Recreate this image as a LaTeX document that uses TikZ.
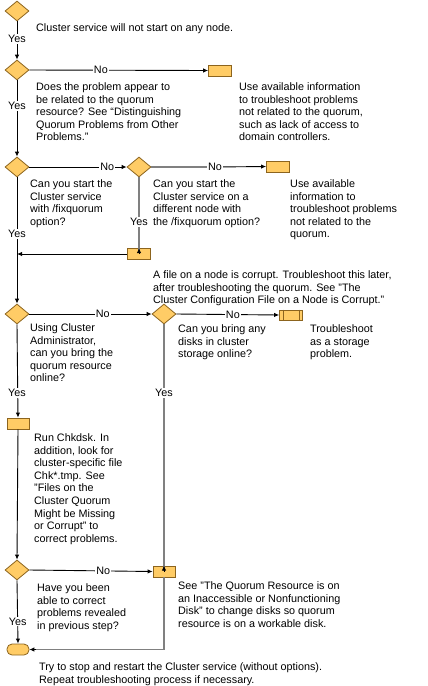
\documentclass[tikz,border=0pt]{standalone}
\usepackage{fontspec}
\setmainfont{Liberation Sans}
\usetikzlibrary{shapes.geometric,arrows.meta}
\definecolor{boxfill}{RGB}{255,204,102}
\definecolor{boxdraw}{RGB}{140,100,30}
\definecolor{linegray}{RGB}{128,128,128}
\tikzset{
  dec/.style={diamond,draw=boxdraw,fill=boxfill,line width=0.8pt,minimum width=24pt,minimum height=20pt,inner sep=0pt},
  act/.style={rectangle,draw=boxdraw,fill=boxfill,line width=0.8pt,minimum width=23pt,minimum height=11pt,inner sep=0pt},
  term/.style={rectangle,rounded corners=5pt,draw=boxdraw,fill=boxfill,line width=0.8pt,minimum width=22pt,minimum height=11pt,inner sep=0pt},
  txt/.style={anchor=north west,align=left,inner sep=0pt,font=\fontsize{10.8}{12.6}\selectfont},
  lab/.style={fill=white,inner sep=1.2pt,font=\fontsize{10.8}{12.6}\selectfont},
  conn/.style={draw=black,line width=0.9pt},
  gconn/.style={draw=linegray,line width=1.2pt},
  arr/.style={-{Latex[length=5pt,width=4.5pt]}},
}
\begin{document}
\begin{tikzpicture}[x=1pt,y=-1pt]
\useasboundingbox (0,0) rectangle (428,686);
% nodes
\node[dec] (d1) at (17,11) {};
\node[dec] (d2) at (17,70) {};
\node[dec] (d3) at (17,167) {};
\node[dec] (d4) at (139,167) {};
\node[dec] (d5) at (17,314) {};
\node[dec] (d6) at (164,314) {};
\node[dec] (d7) at (17,570) {};
\node[act] (b1) at (220,70.5) {};
\node[act] (b2) at (278,166.5) {};
\node[act] (b3) at (139,254) {};
\node[act,minimum height=10pt] (bs) at (291,315) {};
\draw[boxdraw,line width=0.8pt] ([xshift=4pt]bs.north west) -- ([xshift=4pt]bs.south west);
\draw[boxdraw,line width=0.8pt] ([xshift=-4pt]bs.north east) -- ([xshift=-4pt]bs.south east);
\node[act,minimum width=22pt] (b4) at (18,423.5) {};
\node[act,minimum width=22pt] (b5) at (164,571.5) {};
\node[term] (t) at (18,649.5) {};
\coordinate (m1) at (17,254);
\coordinate (m2) at (164,649.5);
% texts
\node[txt] (x1) at (36,23) {Cluster service will not start on any node.};
\node[txt] (x2) at (36,82.5) {Does the problem appear to\\be related to the quorum\\resource? See “Distinguishing\\Quorum Problems from Other\\Problems.”};
\node[txt] (x3) at (239,82.5) {Use available information\\to troubleshoot problems\\not related to the quorum,\\such as lack of access to\\domain controllers.};
\node[txt] (x4) at (30,179.5) {Can you start the\\Cluster service\\with /fixquorum\\option?};
\node[txt] (x5) at (153,179.5) {Can you start the\\Cluster service on a\\different node with\\the /fixquorum option?};
\node[txt] (x6) at (290,179.5) {Use available\\information to\\troubleshoot problems\\not related to the\\quorum.};
\node[txt] (x7) at (153,270.5) {A file on a node is corrupt. Troubleshoot this later,\\after troubleshooting the quorum. See "The\\Cluster Configuration File on a Node is Corrupt."};
\node[txt] (x8) at (30,323.5) {Using Cluster\\Administrator,\\can you bring the\\quorum resource\\online?};
\node[txt] (x9) at (178,324.5) {Can you bring any\\disks in cluster\\storage online?};
\node[txt] (x10) at (310,324.5) {Troubleshoot\\as a storage\\problem.};
\node[txt] (x11) at (34,433.5) {Run Chkdsk. In\\addition, look for\\cluster-specific file\\Chk*.tmp. See\\"Files on the\\Cluster Quorum\\Might be Missing\\or Corrupt" to\\correct problems.};
\node[txt] (x12) at (37,583.5) {Have you been\\able to correct\\problems revealed\\in previous step?};
\node[txt] (x13) at (178,581.5) {See "The Quorum Resource is on\\an Inaccessible or Nonfunctioning\\Disk" to change disks so quorum\\resource is on a workable disk.};
\node[txt] (x14) at (39,662.5) {Try to stop and restart the Cluster service (without options).\\Repeat troubleshooting process if necessary.};
% connectors
\draw[conn,arr] (d1.south) -- (d2.north) node[lab,pos=0.45] {Yes};
\draw[conn,arr] (d2.east) -- (b1.west) node[lab,pos=0.4] {No};
\draw[conn,arr] (d2.south) -- (d3.north) node[lab,pos=0.33] {Yes};
\draw[conn,arr] (d3.east) -- (d4.west) node[lab,pos=0.8] {No};
\draw[gconn] (d4.east) -- (215,167);
\draw[conn,arr] (215,167) -- (b2.west);
\node[lab] at (215,167) {No};
\draw[gconn] (d4.south) -- ([yshift=-5pt]b3.north);
\draw[conn,arr] ([yshift=-6pt]b3.north) -- (b3.north);
\node[lab] at (139,222) {Yes};
\draw[conn,arr] (b3.west) -- (m1);
\draw[conn,arr] (d3.south) -- (d5.north);
\node[lab] at (17,234) {Yes};
\draw[conn,arr] (d5.east) -- (d6.west) node[lab,pos=0.6] {No};
\draw[conn,arr] (d6.east) -- (bs.west) node[lab,pos=0.55] {No};
\draw[gconn] (d6.south) -- ([yshift=-5pt]b5.north);
\draw[conn,arr] ([yshift=-6pt]b5.north) -- (b5.north);
\node[lab] at (164,393) {Yes};
\draw[conn,arr] (d5.south) -- (b4.north);
\node[lab] at (17,393) {Yes};
\draw[conn,arr] (b4.south) -- (d7.north);
\draw[conn,arr] (d7.east) -- (b5.west) node[lab,pos=0.6] {No};
\draw[conn,arr] (d7.south) -- (t.north) node[lab,pos=0.65] {Yes};
\draw[gconn] (b5.south) -- (m2) -- ([xshift=6pt]t.east);
\draw[conn,arr] ([xshift=7pt]t.east) -- (t.east);
\end{tikzpicture}
\end{document}
